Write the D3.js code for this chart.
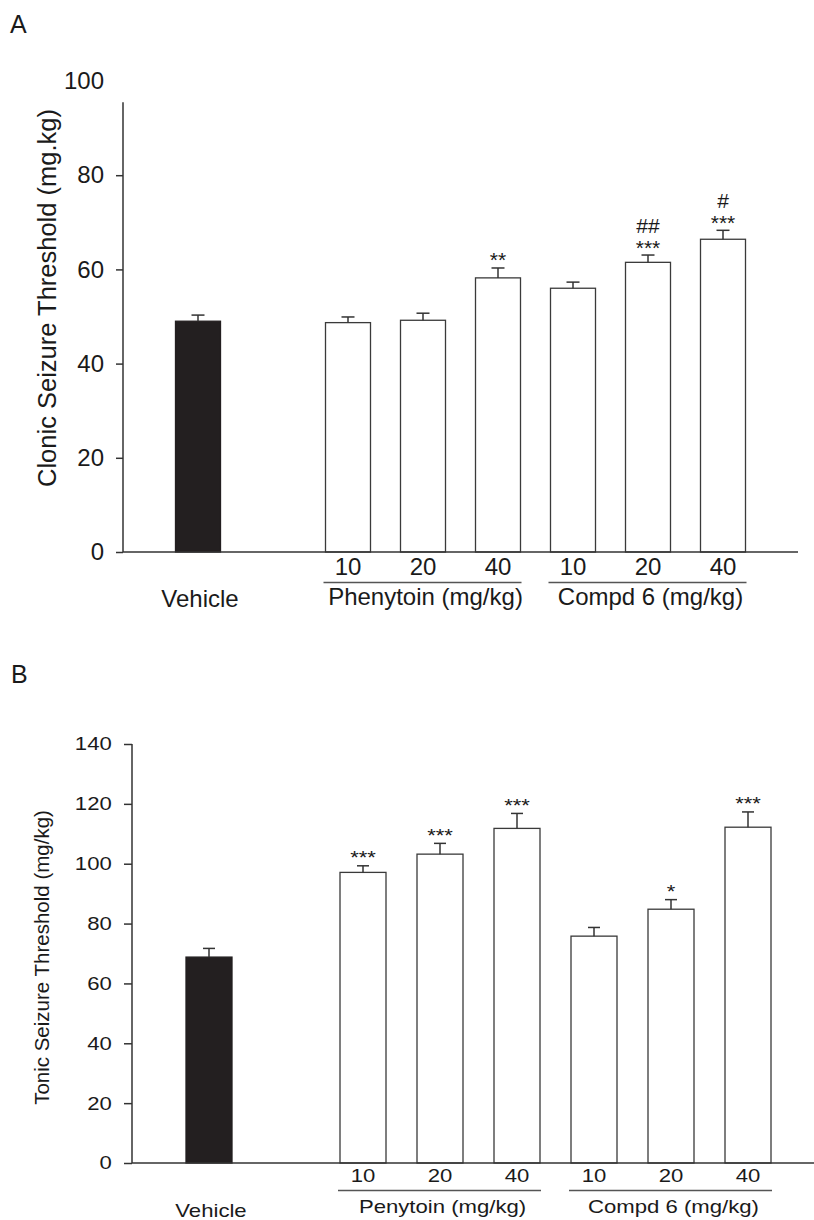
<!DOCTYPE html>
<html>
<head>
<meta charset="utf-8">
<script src="https://cdn.jsdelivr.net/npm/d3@7"></script>
<style>
body { margin: 0; background: #fff; }
svg text { font-family: "Liberation Sans", Arial, sans-serif; fill: #1a1a1a; }
</style>
</head>
<body>
<div id="chart"></div>
<script>
// slots on the x axis ('' is the empty slot after Vehicle)
var groups = ['Vehicle', '', 'P10', 'P20', 'P40', 'C10', 'C20', 'C40'];
var doseLabels = ['', '', '10', '20', '40', '10', '20', '40'];
var groupSpans = [['P10', 'P40'], ['C10', 'C40']];

// A - clonic seizure threshold
var clonicMean = [49.0, null, 48.7, 49.2, 58.2, 56.0, 61.5, 66.4];
var clonicErr = [1.3, null, 1.2, 1.5, 2.1, 1.3, 1.55, 1.9];
var clonicStars = ['', '', '', '', '**', '', '***', '***'];
var clonicHash = ['', '', '', '', '', '', '##', '#'];
var clonicTicks = [0, 20, 40, 60, 80, 100];
var clonicGroupNames = ['Phenytoin (mg/kg)', 'Compd 6 (mg/kg)'];

// B - tonic seizure threshold
var tonicMean = [68.8, null, 97.1, 103.2, 111.8, 75.8, 84.8, 112.2];
var tonicErr = [2.9, null, 2.2, 3.6, 5.0, 2.9, 3.2, 5.1];
var tonicStars = ['', '', '***', '***', '***', '', '*', '***'];
var tonicHash = ['', '', '', '', '', '', '', ''];
var tonicTicks = [0, 20, 40, 60, 80, 100, 120, 140];
var tonicGroupNames = ['Penytoin (mg/kg)', 'Compd 6 (mg/kg)'];

var width = 814, height = 1220;
var axisColor = '#333';
var barFill = '#231f20';

var svg = d3.select('#chart').append('svg')
    .attr('width', width)
    .attr('height', height);

function addText(g, x, y, str, fs, sx, anchor) {
    return g.append('text')
        .attr('transform', 'translate(' + x + ',' + y + ') scale(' + sx + ',1)')
        .attr('text-anchor', anchor || 'middle')
        .style('font-size', fs + 'px')
        .text(str);
}

function drawPanel(cfg) {
    var g = svg.append('g');

    var x = d3.scalePoint().domain(groups).range([cfg.left, cfg.right]).padding(1);
    var y = d3.scaleLinear().domain(cfg.domain).range([cfg.bottom, cfg.top]);

    addText(g, cfg.letterX, cfg.letterY, cfg.letter, 25, 1, 'start');

    // bars
    var idx = d3.range(groups.length).filter(function(i) { return cfg.mean[i] != null; });
    g.selectAll('rect.bar').data(idx).enter().append('rect')
        .attr('class', 'bar')
        .attr('x', function(i) { return x(groups[i]) - cfg.bw / 2; })
        .attr('y', function(i) { return y(cfg.mean[i]); })
        .attr('width', cfg.bw)
        .attr('height', function(i) { return y(0) - y(cfg.mean[i]); })
        .attr('fill', function(i) { return i === 0 ? barFill : '#fff'; })
        .attr('stroke', function(i) { return i === 0 ? barFill : '#3a3a3a'; })
        .attr('stroke-width', 1.3);

    // error bars (upper only)
    idx.forEach(function(i) {
        var cx = x(groups[i]);
        var top = y(cfg.mean[i] + cfg.err[i]);
        g.append('line')
            .attr('x1', cx).attr('x2', cx)
            .attr('y1', y(cfg.mean[i])).attr('y2', top)
            .attr('stroke', '#333').attr('stroke-width', 1.5);
        g.append('line')
            .attr('x1', cx - cfg.capW / 2).attr('x2', cx + cfg.capW / 2)
            .attr('y1', top).attr('y2', top)
            .attr('stroke', '#333').attr('stroke-width', 1.5);
        if (cfg.stars[i])
            addText(g, cx, top - cfg.starGap, cfg.stars[i], cfg.starFs, cfg.sx);
        if (cfg.hash[i])
            addText(g, cx, top - cfg.hashGap, cfg.hash[i], cfg.hashFs, cfg.sx);
    });

    // y axis
    var yAxis = d3.axisLeft(y)
        .tickValues(cfg.ticks)
        .tickSize(cfg.tickLen)
        .tickSizeOuter(0)
        .tickPadding(cfg.tickPad);
    var ya = g.append('g')
        .attr('transform', 'translate(' + cfg.left + ',0)')
        .call(yAxis);
    ya.select('.domain').remove();
    ya.selectAll('.tick line').attr('stroke', axisColor).attr('stroke-width', 1.5);
    ya.selectAll('.tick text')
        .style('font-size', cfg.tickFs + 'px')
        .style('font-family', '"Liberation Sans", Arial, sans-serif')
        .attr('fill', '#1a1a1a')
        .attr('transform', 'scale(' + cfg.sx + ',1)');
    if (cfg.axisTop < cfg.domain[1]) {
        ya.selectAll('.tick').filter(function(d) { return d > cfg.axisTop; })
            .select('line').remove();
    }
    g.append('line')
        .attr('x1', cfg.left).attr('x2', cfg.left)
        .attr('y1', y(0)).attr('y2', y(cfg.axisTop))
        .attr('stroke', axisColor).attr('stroke-width', 1.5);

    // baseline
    g.append('line')
        .attr('x1', cfg.left).attr('x2', cfg.right)
        .attr('y1', y(0)).attr('y2', y(0))
        .attr('stroke', axisColor).attr('stroke-width', 1.5);

    // y title
    g.append('text')
        .attr('transform', 'translate(' + cfg.titleX + ',' + ((cfg.titleTop + cfg.titleBottom) / 2) + ') rotate(-90)')
        .attr('text-anchor', 'middle')
        .style('font-size', cfg.titleFs + 'px')
        .text(cfg.title);

    // dose labels
    groups.forEach(function(k, i) {
        if (doseLabels[i])
            addText(g, x(k), cfg.doseY, doseLabels[i], cfg.labelFs, cfg.sx);
    });
    addText(g, x('Vehicle') + 2, cfg.vehicleY, 'Vehicle', cfg.labelFs, cfg.sx);

    // group underlines + names
    groupSpans.forEach(function(span, j) {
        var x0 = x(span[0]) - cfg.bw / 2 - 2;
        var x1 = x(span[1]) + cfg.bw / 2 + 1;
        g.append('line')
            .attr('x1', x0).attr('x2', x1)
            .attr('y1', cfg.lineY).attr('y2', cfg.lineY)
            .attr('stroke', '#555').attr('stroke-width', 1.5);
        addText(g, (x0 + x1) / 2 + 3, cfg.groupY, cfg.groupNames[j], cfg.labelFs, cfg.sx);
    });
}

drawPanel({
    letter: 'A', letterX: 10, letterY: 33,
    left: 123, right: 798, top: 81, bottom: 552,
    domain: [0, 100], axisTop: 95.5, ticks: clonicTicks,
    mean: clonicMean, err: clonicErr, stars: clonicStars, hash: clonicHash,
    bw: 45, capW: 13, sx: 1,
    tickLen: 7, tickPad: 12, tickFs: 24,
    starFs: 21, starGap: 0.5, hashFs: 21, hashGap: 22,
    title: 'Clonic Seizure Threshold (mg.kg)', titleX: 56, titleTop: 106, titleBottom: 490, titleFs: 25.5,
    labelFs: 24, doseY: 575, vehicleY: 607, lineY: 582.5, groupY: 605,
    groupNames: clonicGroupNames
});

drawPanel({
    letter: 'B', letterX: 11, letterY: 683,
    left: 132, right: 825, top: 744, bottom: 1163,
    domain: [0, 140], axisTop: 140, ticks: tonicTicks,
    mean: tonicMean, err: tonicErr, stars: tonicStars, hash: tonicHash,
    bw: 46, capW: 12, sx: 1.19,
    tickLen: 8, tickPad: 9, tickFs: 18.6,
    starFs: 18.5, starGap: 1.5, hashFs: 18.5, hashGap: 20,
    title: 'Tonic Seizure Threshold (mg/kg)', titleX: 49, titleTop: 807, titleBottom: 1108, titleFs: 20.5,
    labelFs: 18.6, doseY: 1182, vehicleY: 1217, lineY: 1190.5, groupY: 1213,
    groupNames: tonicGroupNames
});
</script>
</body>
</html>
